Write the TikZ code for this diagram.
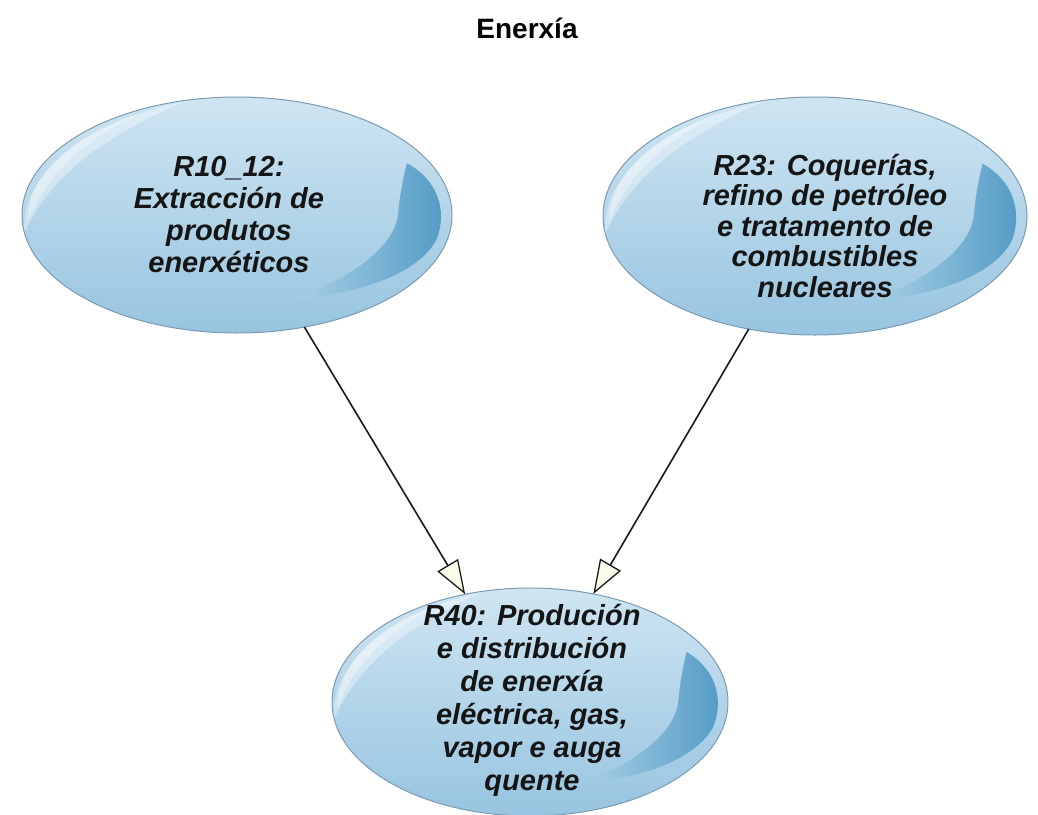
\documentclass[tikz,border=0pt]{standalone}
\usepackage{fontspec}
\setmainfont{Liberation Sans}
\usetikzlibrary{shapes.geometric,arrows.meta}
\definecolor{bubTop}{HTML}{CFE5F2}
\definecolor{bubBot}{HTML}{97C4E0}
\definecolor{bubEdge}{HTML}{7C9BB2}
\definecolor{crescL}{HTML}{A8CFE6}
\definecolor{crescR}{HTML}{529AC4}
\definecolor{arrowFill}{HTML}{FBFBEA}
\definecolor{txt}{HTML}{151515}
\newcommand{\bubdeco}[4]{%
  \shade[top color=bubTop, bottom color=bubBot] (#1,#2) ellipse [x radius=#3pt, y radius=#4pt];
  \begin{scope}[shift={(#1,#2)}, x=#3pt, y=-#4pt]
    \fill[white, opacity=0.35]
      (-0.99,0.15) .. controls (-1.01,-0.3) and (-0.75,-0.76) .. (-0.25,-0.96)
      .. controls (-0.62,-0.66) and (-0.86,-0.35) .. (-0.99,0.15) -- cycle;
    \fill[white, opacity=0.35]
      (-0.97,0.05) .. controls (-0.98,-0.3) and (-0.78,-0.68) .. (-0.45,-0.86)
      .. controls (-0.72,-0.64) and (-0.90,-0.3) .. (-0.97,0.05) -- cycle;
    \shade[left color=crescL, right color=crescR]
      (0.79,-0.44) .. controls (0.93,-0.3) and (0.98,-0.05) .. (0.93,0.2)
      .. controls (0.85,0.5) and (0.55,0.68) .. (0.28,0.70)
      .. controls (0.55,0.52) and (0.74,0.25) .. (0.75,-0.02)
      .. controls (0.76,-0.22) and (0.78,-0.36) .. (0.79,-0.44) -- cycle;
  \end{scope}}
\tikzset{
  bubble/.style 2 args={
    ellipse, outer sep=0pt, inner sep=0pt,
    minimum width={2*#1pt}, minimum height={2*#2pt},
    draw=bubEdge, line width=1pt
  },
  bubtext/.style={align=center, text=txt, inner sep=0pt,
    font=\fontsize{29}{32}\selectfont\bfseries\itshape},
  conn/.style={draw=black!90, line width=1.6pt,
    -{Triangle[length=34pt, width=24pt, fill=arrowFill, line width=1.3pt]}},
  titlefont/.style={font=\fontsize{28}{32}\selectfont\bfseries}
}
\begin{document}
\begin{tikzpicture}[x=1pt, y=-1pt]
  \useasboundingbox (0,0) rectangle (1038,814);
  \bubdeco{237}{215}{215}{118}
  \bubdeco{815}{216}{212}{119}
  \bubdeco{530}{702}{198}{114}
  \node[titlefont, anchor=base] (title) at (527,38) {Enerxía};
  \node[bubble={215}{118}] (r10) at (237,215) {};
  \node[bubble={212}{119}] (r23) at (815,216) {};
  \node[bubble={198}{114}] (r40) at (530,702) {};
  \node[bubtext] (t10) at ([shift={(-8,0)}]r10.center)
    {R10\_12:\\Extracción de\\produtos\\enerxéticos};
  \node[bubtext, font=\fontsize{29}{30.5}\selectfont\bfseries\itshape] (t23) at ([shift={(10,10)}]r23.center)
    {R23: Coquerías,\\refino de petróleo\\e tratamento de\\combustibles\\nucleares};
  \node[bubtext, font=\fontsize{29}{33}\selectfont\bfseries\itshape] (t40) at ([shift={(2,-2)}]r40.center)
    {R40: Produción\\e distribución\\de enerxía\\eléctrica, gas,\\vapor e auga\\quente};
  \draw[conn] (r10) -- (r40);
  \draw[conn] (r23) -- (r40);
\end{tikzpicture}
\end{document}
